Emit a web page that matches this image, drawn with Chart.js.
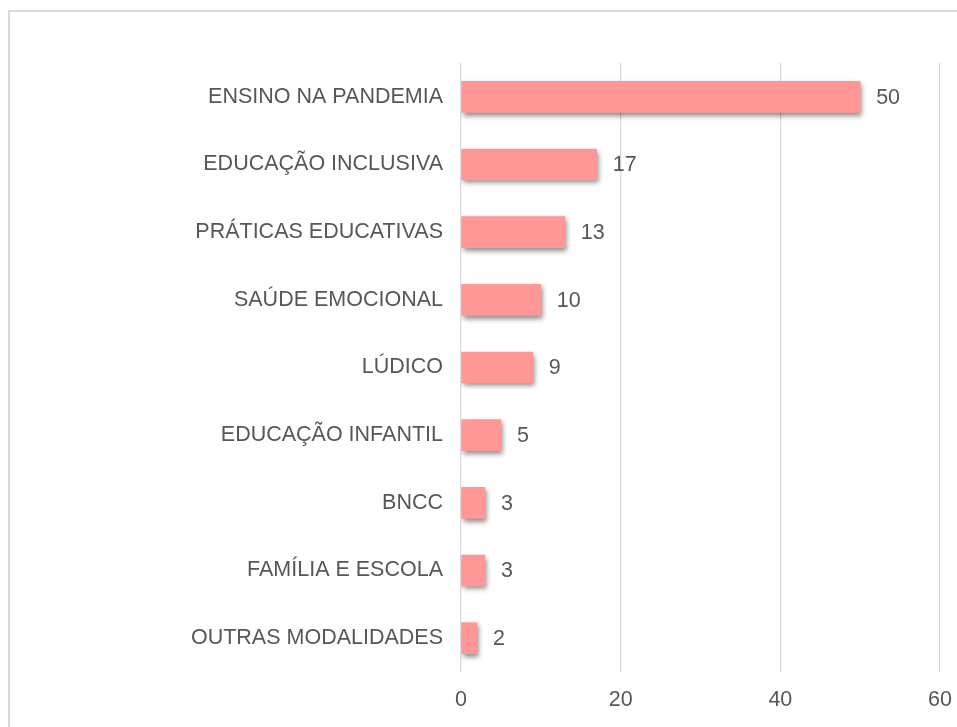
<!DOCTYPE html>
<html>
<head>
<meta charset="utf-8">
<script src="https://cdn.jsdelivr.net/npm/chart.js@4"></script>
<style>
    body { margin: 0; background: #fff; overflow: hidden; }
    #frame { position: absolute; left: 8px; top: 10px; width: 1000px; height: 800px; border: 2px solid #d9d9d9; }
    #wrap { position: absolute; left: 0; top: 0; width: 957px; height: 727px; }
</style>
</head>
<body>
<div id="frame"></div>
<div id="wrap"><canvas id="myChart"></canvas></div>
<script>
var categories = ["ENSINO NA PANDEMIA", "EDUCAÇÃO INCLUSIVA", "PRÁTICAS EDUCATIVAS", "SAÚDE EMOCIONAL", "LÚDICO", "EDUCAÇÃO INFANTIL", "BNCC", "FAMÍLIA E ESCOLA", "OUTRAS MODALIDADES"];
var values = [50, 17, 13, 10, 9, 5, 3, 3, 2];
var xTicks = [0, 20, 40, 60];

document.addEventListener("DOMContentLoaded", function() {

    var ctx = document.getElementById("myChart").getContext("2d");
    var textColor = "#575757";
    var fontFamily = "'Liberation Sans', Arial, sans-serif";
    var fontSize = 21.5;

    // drop shadow under the bars
    var barShadow = {
        id: "barShadow",
        beforeDatasetsDraw: function(chart) {
            var c = chart.ctx;
            c.save();
            c.shadowColor = "rgba(0, 0, 0, 0.45)";
            c.shadowBlur = 5;
            c.shadowOffsetX = 2;
            c.shadowOffsetY = 3;
        },
        afterDatasetsDraw: function(chart) {
            chart.ctx.restore();
        }
    };

    // value labels right of each bar
    var valueLabels = {
        id: "valueLabels",
        afterDatasetsDraw: function(chart) {
            var c = chart.ctx;
            var meta = chart.getDatasetMeta(0);
            c.save();
            c.font = fontSize + "px " + fontFamily;
            c.fillStyle = textColor;
            c.textAlign = "left";
            c.textBaseline = "middle";
            meta.data.forEach(function(bar, i) {
                c.fillText(String(values[i]), bar.x + 16, bar.y + 1);
            });
            c.restore();
        }
    };

    var myNewChart = new Chart(ctx, {
        type: "bar",
        data: {
            labels: categories,
            datasets: [{
                data: values,
                backgroundColor: "#ff9797",
                borderWidth: 0,
                barThickness: 31
            }]
        },
        options: {
            indexAxis: "y",
            responsive: true,
            maintainAspectRatio: false,
            animation: false,
            layout: { padding: { top: 63, right: 17, left: 0, bottom: 0 } },
            plugins: {
                legend: { display: false },
                tooltip: { enabled: false }
            },
            scales: {
                x: {
                    min: 0,
                    max: 60,
                    afterBuildTicks: function(axis) {
                        axis.ticks = xTicks.map(function(v) { return { value: v }; });
                    },
                    afterFit: function(axis) {
                        axis.height = 55;
                        axis.paddingLeft = 0;
                        axis.paddingRight = 0;
                    },
                    grid: { color: "#d9d9d9", lineWidth: 1.3, drawTicks: false },
                    border: { display: false },
                    ticks: {
                        padding: 15,
                        color: textColor,
                        font: { family: fontFamily, size: fontSize }
                    }
                },
                y: {
                    afterFit: function(axis) { axis.width = 461; },
                    grid: { display: false, drawTicks: false },
                    border: { display: false },
                    ticks: {
                        padding: 18,
                        color: textColor,
                        font: { family: fontFamily, size: fontSize }
                    }
                }
            }
        },
        plugins: [barShadow, valueLabels]
    });
});
</script>
</body>
</html>
